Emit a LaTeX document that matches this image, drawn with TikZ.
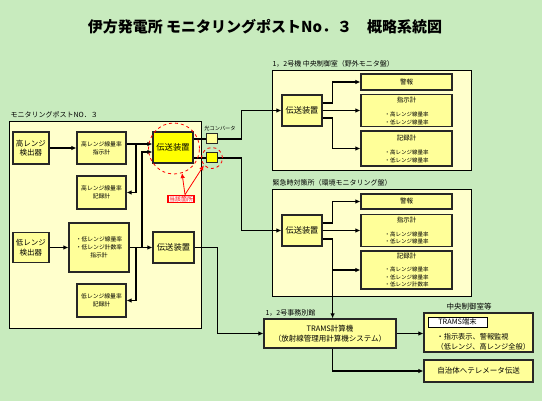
\documentclass[tikz,border=0pt]{standalone}
\usepackage{fontspec}
\setmainfont{Noto Sans CJK JP}
\usetikzlibrary{arrows.meta}
\definecolor{bg}{RGB}{200,235,190}
\definecolor{areafill}{RGB}{255,255,204}
\definecolor{boxfill}{RGB}{255,255,153}
\definecolor{hot}{RGB}{255,255,0}

\begin{document}
\begin{tikzpicture}[x=1pt,y=-1pt,>={Latex[length=5pt,width=4.5pt]},
	line width=1.2pt,
	main node/.style={draw=black!85,line width=1.2pt,fill=boxfill,inner sep=0pt,align=center,font=\fontsize{7.5}{9.5}\selectfont},
	small node/.style={main node,font=\fontsize{5.8}{8}\selectfont},
	list node/.style={main node,font=\fontsize{5.5}{7.5}\selectfont},
	area/.style={draw=black,line width=0.8pt,fill=areafill,inner sep=0pt},
	tag/.style={inner sep=0pt,anchor=south west,font=\fontsize{7}{8}\selectfont},
	mark node/.style={draw=red,dashed,line width=0.8pt,circle,inner sep=0pt}]
	
	\useasboundingbox (0,0) rectangle (542,401);
	\fill[bg] (0,0) rectangle (542,401);
	\node[font=\fontsize{15}{16}\selectfont\bfseries] (title) at (265,27) {伊方発電所 モニタリングポストNo．３　概略系統図};
	
	\node[area,minimum width=192,minimum height=207] (post) at (105,224.5) {};
	\node[area,minimum width=199,minimum height=100] (chuo) at (371.5,120) {};
	\node[area,minimum width=199,minimum height=107] (kinkyu) at (371.5,242.5) {};
	\node[tag] (postlabel) at (10,119) {モニタリングポストNO．３};
	\node[tag] (chuolabel) at (272,68) {1，2号機 中央制御室（野外モニタ盤）};
	\node[tag] (kinkyulabel) at (272,187) {緊急時対策所（環境モニタリング盤）};
	\node[tag] (bekkanlabel) at (265,317) {1，2号事務別館};
	\node[font=\fontsize{7.5}{8}\selectfont] (tanmatsulabel) at (469,307) {中央制御室等};
	
	\node[main node,minimum width=36,minimum height=32] (takaken) at (31,148) {高レンジ\\検出器};
	\node[small node,minimum width=49,minimum height=32] (takashi) at (101.5,148) {高レンジ線量率\\指示計};
	\node[small node,minimum width=49,minimum height=33] (takakiroku) at (101.5,192.5) {高レンジ線量率\\記録計};
	\node[main node,fill=hot,minimum width=40,minimum height=31,font=\fontsize{8.3}{9}\selectfont] (densou1) at (173,147.5) {伝送装置};
	\node[main node,minimum width=36,minimum height=30] (hikuken) at (31,247.5) {低レンジ\\検出器};
	\node[small node,minimum width=60,minimum height=49] (hikushi) at (99,247.5) {・低レンジ線量率\\・低レンジ計数率\\指示計};
	\node[small node,minimum width=49,minimum height=33] (hikukiroku) at (101.5,300.5) {低レンジ線量率\\記録計};
	\node[main node,minimum width=41,minimum height=31,font=\fontsize{8.3}{9}\selectfont] (densou2) at (173.5,247.5) {伝送装置};
	
	\node[main node,line width=1pt,minimum width=11,minimum height=10] (conv1) at (211.5,139) {};
	\node[main node,line width=1pt,fill=hot,minimum width=11,minimum height=10] (conv2) at (211.5,158) {};
	\node[inner sep=0pt,font=\fontsize{5.2}{6}\selectfont] (convlabel) at (220,129) {光コンバータ};
	
	\node[main node,minimum width=40,minimum height=31,font=\fontsize{8.2}{9}\selectfont] (den3) at (302,110.5) {伝送装置};
	\node[main node,minimum width=91,minimum height=16,font=\fontsize{6.5}{7}\selectfont] (keiho1) at (406.5,82) {警報};
	\node[list node,minimum width=91,minimum height=32] (shiji1) at (406.5,110.5) {{\fontsize{6.5}{7.5}\selectfont 指示計}\\[7pt]・高レンジ線量率\\・低レンジ線量率};
	\node[list node,minimum width=91,minimum height=35] (kiroku1) at (406.5,148.5) {{\fontsize{6.5}{7.5}\selectfont 記録計}\\[7pt]・高レンジ線量率\\・低レンジ線量率};
	
	\node[main node,minimum width=40,minimum height=31,font=\fontsize{8.2}{9}\selectfont] (den4) at (302,230.5) {伝送装置};
	\node[main node,minimum width=91,minimum height=15,font=\fontsize{6.5}{7}\selectfont] (keiho2) at (406.5,201.5) {警報};
	\node[list node,minimum width=91,minimum height=32] (shiji2) at (406.5,230.5) {{\fontsize{6.5}{7.5}\selectfont 指示計}\\[6pt]・高レンジ線量率\\・低レンジ線量率};
	\node[list node,minimum width=91,minimum height=38] (kiroku2) at (406.5,270) {{\fontsize{6.5}{7.5}\selectfont 記録計}\\[6pt]・高レンジ線量率\\・低レンジ線量率\\・低レンジ計数率};
	
	\node[main node,minimum width=132,minimum height=29] (trams) at (330,333.5) {TRAMS計算機\\（放射線管理用計算機システム）};
	\node[main node,minimum width=109,minimum height=39] (tanmatsu) at (478.5,332.5) {};
	\node[draw,line width=0.6pt,fill=white,inner sep=0pt,minimum width=59,minimum height=10,font=\fontsize{7.3}{8}\selectfont] (tanmatsuhead) at (457.5,322) {TRAMS端末};
	\node[inner sep=0pt,anchor=west,align=left,font=\fontsize{7.2}{10}\selectfont] (tanmatsutxt) at (436,342) {・指示表示、警報監視\\（低レンジ、高レンジ全般）};
	\node[main node,minimum width=109,minimum height=22] (jichitai) at (478.5,371) {自治体へテレメータ伝送};
	
	\draw[->] (takaken) -- (takashi);
	\draw[->] (takashi.east |- 0,144) -- (densou1.west |- 0,144);
	\coordinate (jt) at (136,144);
	\draw[->] (jt) |- (takakiroku);
	\draw[->] (hikuken) -- (hikushi);
	\draw[->] (hikushi) -- (densou2);
	\coordinate (jh) at (136,247.5);
	\draw[->] (jh) |- (hikukiroku);
	\coordinate (ju) at (142,247.5);
	\draw[->] (ju) |- (densou1.west |- 0,152);
	
	\draw (densou1.east |- 0,139) -- (conv1);
	\draw (densou1.east |- 0,158) -- (conv2);
	\draw[->] (conv1.east) -- ++(24,0) |- (den3);
	\draw[->] (conv2.east) -- ++(24,0) |- (den4);
	
	\draw[->] (den3.east |- 0,103) -- ++(10,0) |- (keiho1);
	\draw[->] (den3) -- (shiji1);
	\draw[->] (den3.east |- 0,118) -- ++(10,0) |- (kiroku1);
	
	\draw[->] (den4.east |- 0,223) -- ++(10,0) |- (keiho2);
	\draw[->] (den4) -- (shiji2);
	\draw[->] (den4.east |- 0,239) -- ++(10,0) coordinate (jm) |- (kiroku2);
	\draw[->] (jm) -- (jm |- trams.north);
	
	\draw[->] (densou2.east) -- ++(23,0) |- (trams);
	\draw[->] (trams.east) -- (tanmatsu.west |- trams.east);
	\draw[->] (trams.south -| jm) |- (jichitai);
	
	\node[mark node,minimum size=51] (maru1) at (174,148.5) {};
	\node[mark node,minimum size=21] (maru2) at (212,158) {};
	\node[draw=red,line width=1.2pt,fill=white,text=red,inner sep=1pt,font=\fontsize{6}{7}\selectfont] (gaitou) at (181,199) {当該箇所};
	\draw[red,line width=0.8pt,->] (gaitou.north) ++(4,0) -- (maru1.-72);
	\draw[red,line width=0.8pt,->] (gaitou.north) ++(4,0) -- (maru2.-138);
\end{tikzpicture}
\end{document}
